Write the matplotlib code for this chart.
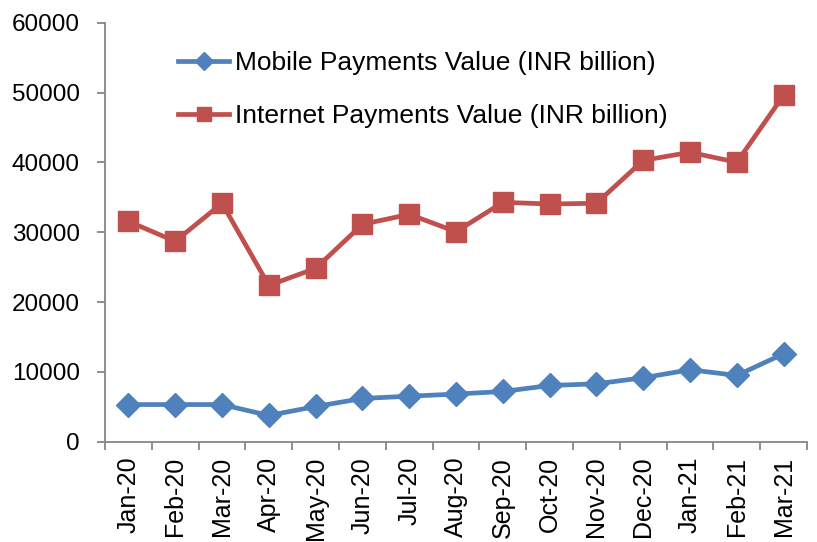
import numpy as np
import matplotlib.pyplot as plt
from matplotlib.ticker import FixedLocator

months = ["Jan-20", "Feb-20", "Mar-20", "Apr-20", "May-20", "Jun-20", "Jul-20", "Aug-20",
          "Sep-20", "Oct-20", "Nov-20", "Dec-20", "Jan-21", "Feb-21", "Mar-21"]
mobile_value = [5300, 5300, 5300, 3730, 5020, 6170, 6500, 6800, 7170, 8030, 8270, 9140, 10290, 9470, 12580]
internet_value = [31560, 28700, 34150, 22380, 24820, 31130, 32570, 30080, 34290, 34050, 34150, 40300, 41460, 40030, 49640]

plt.rcParams['font.family'] = ['Liberation Sans', 'DejaVu Sans']

fig = plt.figure(figsize=(8.17, 5.42), dpi=100)
ax = fig.add_axes([0.1285, 0.1854, 0.8593, 0.7722])

x = np.arange(len(months))
ax.plot(x, mobile_value, color='#4F81BD', lw=3.4, marker='D', ms=12,
        label='Mobile Payments Value (INR billion)')
ax.plot(x, internet_value, color='#C0504D', lw=3.4, marker='s', ms=14,
        label='Internet Payments Value (INR billion)')

ax.set_xlim(-0.5, len(months) - 0.5)
ax.set_ylim(0, 60000)
ax.set_yticks(np.arange(0, 60001, 10000))
ax.set_xticks(x)
ax.set_xticklabels(months, rotation=90)
# Excel-style ticks sit between categories
ax.xaxis.set_minor_locator(FixedLocator(np.arange(-0.5, len(months), 1)))
ax.tick_params(axis='x', which='major', length=0, labelsize=18, pad=11)
ax.tick_params(axis='x', which='minor', length=6, color='#868686', width=1.3)
ax.tick_params(axis='y', length=6, color='#868686', width=1.3, labelsize=17.5, pad=12)

for s in ['top', 'right']:
    ax.spines[s].set_visible(False)
for s in ['left', 'bottom']:
    ax.spines[s].set_color('#868686')
    ax.spines[s].set_linewidth(1.3)

fig.legend(loc='upper left', bbox_to_anchor=(178 / 817, 1 - 51 / 542), frameon=False,
           fontsize=19, handlelength=1.95, handletextpad=0.2, labelspacing=1.1,
           borderpad=0, borderaxespad=0, markerscale=0.75)

fig.savefig('out.png', dpi=100)
